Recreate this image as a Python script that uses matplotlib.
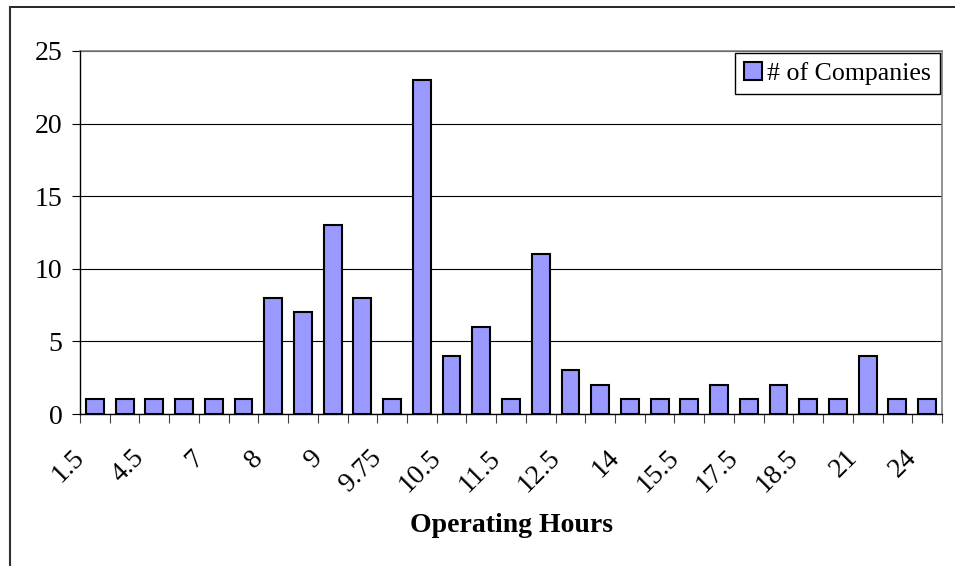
import matplotlib
matplotlib.use("Agg")
import matplotlib.pyplot as plt
from matplotlib.lines import Line2D
from matplotlib.transforms import ScaledTranslation
import numpy as np

# ---- data ----
counts = [1, 1, 1, 1, 1, 1, 8, 7, 13, 8, 1, 23, 4, 6, 1, 11, 3, 2, 1, 1, 1, 2, 1, 2, 1, 1, 4, 1, 1]
tick_labels = ["1.5", "4.5", "7", "8", "9", "9.75", "10.5", "11.5", "12.5",
               "14", "15.5", "17.5", "18.5", "21", "24"]
series_name = "# of Companies"
x_title = "Operating Hours"
y_ticks = [0, 5, 10, 15, 20, 25]

plt.rcParams['font.family'] = ['Liberation Serif', 'DejaVu Serif']

W, H = 955, 566
fig = plt.figure(figsize=(W / 100, H / 100), dpi=100)
ax = fig.add_axes([80 / W, 1 - 414 / H, (942 - 80) / W, (414 - 51) / H])

n = len(counts)
x = np.arange(n)
ax.bar(x, counts, width=0.6, color="#9999FF", edgecolor="black", linewidth=1.5,
       zorder=3, label=series_name)

ax.set_xlim(-0.5, n - 0.5)
ax.set_ylim(0, 25)

# gridlines
ax.set_yticks(y_ticks)
ax.set_yticklabels([str(v) for v in y_ticks], fontsize=20)
ax.yaxis.grid(True, color="black", linewidth=0.8, zorder=1)
ax.tick_params(axis='y', direction='out', length=6, width=0.8, pad=6.5)

# x ticks at category boundaries, labels on every other category
ax.set_xticks(np.arange(-0.5, n, 1.0))
ax.set_xticklabels([])
ax.tick_params(axis='x', which='major', direction='out', length=6.5, width=0.8, color="#404040")
ax.set_xticks(x[::2], minor=True)
ax.set_xticklabels(tick_labels, minor=True)
ax.tick_params(axis='x', which='minor', length=0, pad=29, labelsize=20, labelrotation=45)

for s in ['top', 'right']:
    ax.spines[s].set_color('#808080')
    ax.spines[s].set_linewidth(1.2)
for s in ['left', 'bottom']:
    ax.spines[s].set_color('black')
    ax.spines[s].set_linewidth(1.0)
ax.spines['top'].set_zorder(2)

ax.set_xlabel(x_title, fontsize=20, fontweight='bold', labelpad=0)
ax.xaxis.set_label_coords(0.5, -(525 - 414) / (414 - 51), transform=ax.transAxes)
ax.xaxis.label.set_va('center')

leg = ax.legend(loc='upper right', bbox_to_anchor=(940 / W, 1 - 53 / H),
                bbox_transform=fig.transFigure, borderaxespad=0,
                fontsize=18.6, frameon=True, fancybox=False, framealpha=1,
                edgecolor='black', handlelength=0.7, handleheight=0.7,
                handletextpad=0.2, borderpad=0.35)
leg.get_frame().set_linewidth(1.0)

# outer chart frame (top and left visible)
fig.add_artist(Line2D([10 / W, 1.0], [1 - 7 / H, 1 - 7 / H], color='black', linewidth=1.2,
                      transform=fig.transFigure))
fig.add_artist(Line2D([10 / W, 10 / W], [1 - 7 / H, 0.0], color='#303030', linewidth=1.5,
                      transform=fig.transFigure))

fig.canvas.draw()
offset = ScaledTranslation(-14 / 100, 0, fig.dpi_scale_trans)
for lab in ax.get_xticklabels(minor=True):
    lab.set_fontsize(20)
    lab.set_rotation(45)
    lab.set_ha('right')
    lab.set_va('center')
    lab.set_rotation_mode('anchor')
    lab.set_transform(lab.get_transform() + offset)

fig.savefig("out.png", dpi=100)
